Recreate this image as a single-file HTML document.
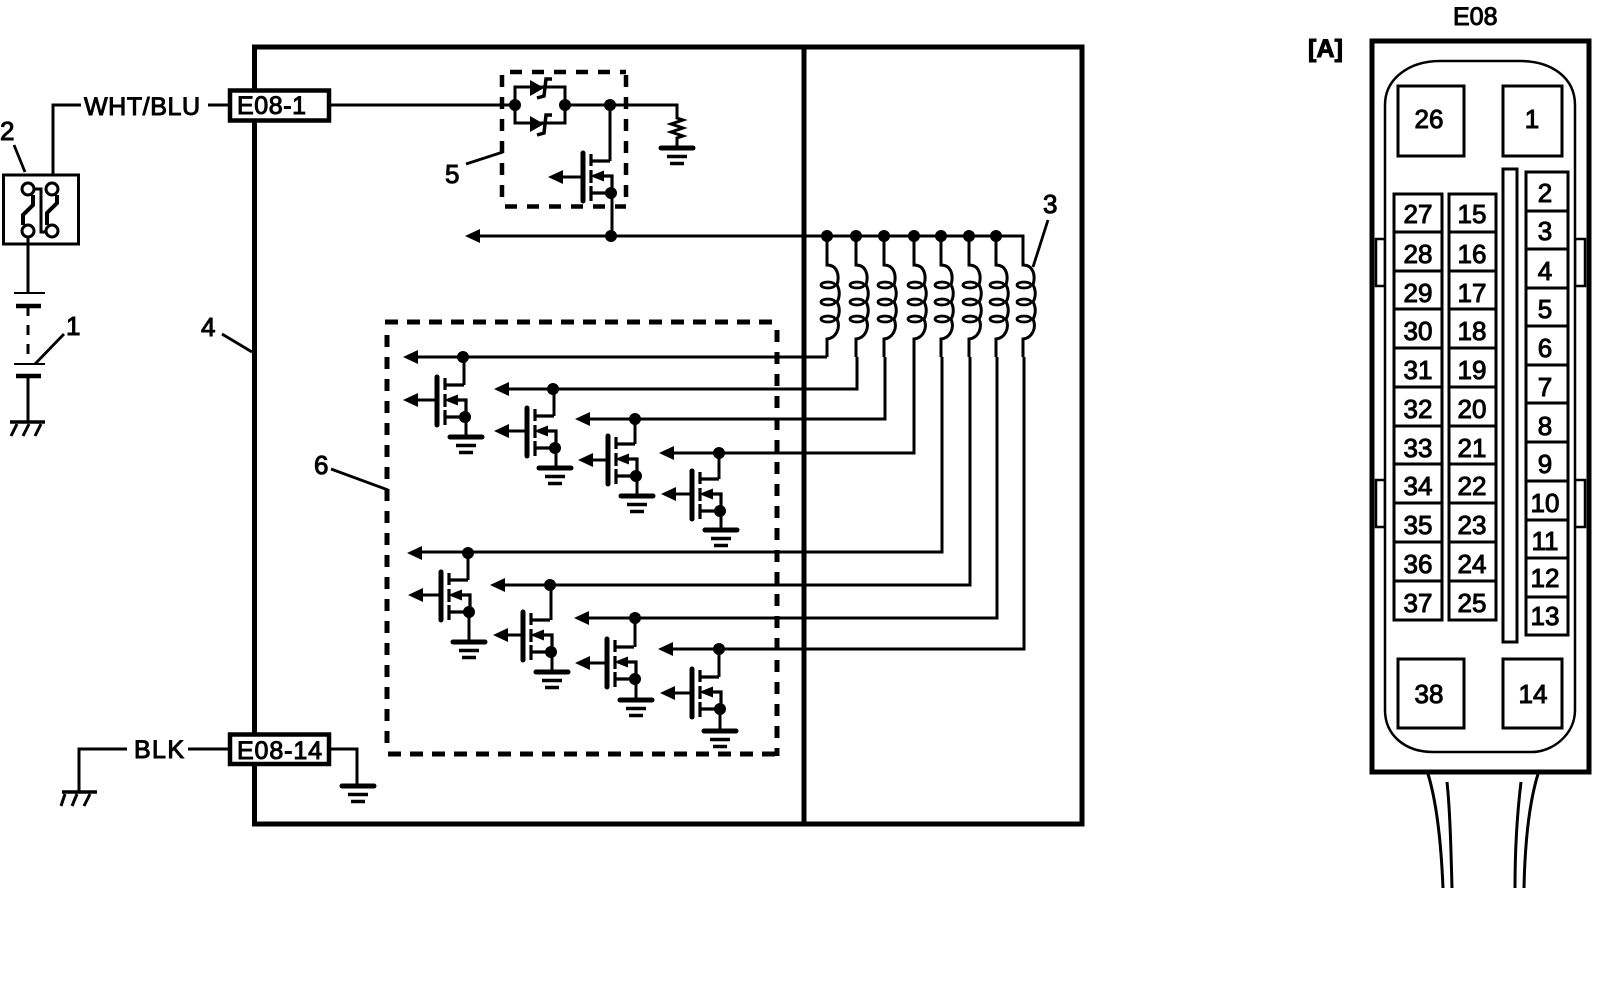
<!DOCTYPE html>
<html><head><meta charset="utf-8"><style>
html,body{margin:0;padding:0;background:#fff}
svg{display:block}
text{font-family:"Liberation Sans",sans-serif;fill:#000;stroke:#000;stroke-width:1}
.n text{font-size:26px;text-anchor:middle;stroke-width:1}
</style></head><body>
<svg width="1600" height="988" viewBox="0 0 1600 988">
<defs>
<g id="m">
<path d="M0 -8V40" stroke-width="5" stroke-linecap="round"/>
<path d="M8 -7V5M8 9V22M8 25V40" stroke-width="3.200"/>
<path d="M8 0H27M8 32H29M12 15H29V32" stroke-width="3.200"/>
<polygon points="7,15 21,9.500 21,20.500" fill="#000" stroke="none"/>
<circle cx="28" cy="32" r="6" fill="#000" stroke="none"/>
</g>
<g id="g">
<path d="M-16 0H16" stroke-width="5" stroke-linecap="round"/>
<path d="M-10 8.500H10M-7 15.500H7" stroke-width="3.500"/>
</g>
<polygon id="a" points="0,0 15,-7 15,7" fill="#000" stroke="none"/>
<circle id="d" r="6" fill="#000" stroke="none"/>
<g id="c" fill="none">
<path d="M0 238V265C10 265 13 275 10 285C13 290 13 297 10 302C13 307 13 314 10 319C14 328 9 338 0 339V357" stroke-width="3"/>
<ellipse cx="1" cy="285" rx="7" ry="3" stroke-width="2.800"/>
<ellipse cx="1" cy="302" rx="7" ry="3" stroke-width="2.800"/>
<ellipse cx="1" cy="319" rx="7" ry="3" stroke-width="2.800"/>
</g>
</defs>

<g fill="none" stroke="#000" stroke-width="3">
<!-- main enclosure -->
<rect x="254.500" y="47" width="827.500" height="777" stroke-width="5"/>
<path d="M804 47V824" stroke-width="5"/>

<!-- left side circuit -->
<path d="M81 105H53V174M208 105H230M329 105H515"/>
<rect x="3.500" y="175" width="75" height="69"/>
<path d="M33 195V205L23 215V225M57 195V203L47 213V225" stroke-width="4"/>
<path d="M35 189H41V232H46"/>
<circle cx="28" cy="189" r="6"/><circle cx="52" cy="189" r="6"/><circle cx="28" cy="231" r="6"/><circle cx="52" cy="231" r="6"/>
<path d="M28 237V293"/>
<path d="M14 293H45M14 364H45" stroke-width="2"/>
<path d="M16 306H41M16 376H41" stroke-width="4.500"/>
<path d="M28 306V363" stroke-dasharray="10 9"/>
<path d="M28 376V422"/>
<path d="M10 422H45" stroke-width="3.500"/>
<path d="M17 424L11 436M29 424L23 436M41 424L35 436"/>
<path d="M64 334L35 364M14 145L25 172M222 334L252 352M466 164L503 152M331 469L388 490M1048 220L1033 267" stroke-width="2.800"/>

<rect x="230" y="90.500" width="99" height="30" fill="#fff" stroke-width="4.500"/>

<!-- bottom left -->
<path d="M127 749H79V792M188 749H229M329 749H357V786"/>
<path d="M62 792H97" stroke-width="3.500"/>
<path d="M65 794L61 806M77 794L72 806M90 794L84 806"/>
<rect x="230" y="734.500" width="99" height="29.500" fill="#fff" stroke-width="4.500"/>
<use href="#g" x="358" y="786"/>

<!-- box 5 circuit -->
<path d="M502 75V205M510 72H626M505 206.500H626M626 75V207" stroke-width="4.500" stroke-dasharray="12 10"/>
<path d="M515 105V87H565V123H515V105M565 105H677V118L683 120L671 124L683 128L671 132L683 136L677 138V148"/>
<polygon points="530,80 544,88 530,96" fill="#000" stroke="none"/>
<polygon points="530,116 544,124 530,132" fill="#000" stroke="none"/>
<path d="M552 79H546L544 96L537 98M552 115H546L544 133L537 135" stroke-width="3.500"/>
<use href="#d" x="515" y="105"/><use href="#d" x="565" y="105"/><use href="#d" x="610" y="105"/>
<use href="#g" x="677" y="148"/>
<path d="M610 105V161"/>
<use href="#m" x="583" y="161"/>
<path d="M583 177H556M612 193V236"/>
<use href="#a" x="548" y="177"/>

<!-- bus -->
<path d="M470 236H1023V265"/>
<use href="#a" x="465" y="236"/>
<use href="#d" x="611" y="236"/>
<use href="#d" x="827" y="236"/><use href="#d" x="856" y="236"/><use href="#d" x="884" y="236"/><use href="#d" x="914" y="236"/><use href="#d" x="941" y="236"/><use href="#d" x="969" y="236"/><use href="#d" x="996" y="236"/>
<use href="#c" x="827"/><use href="#c" x="856"/><use href="#c" x="884"/><use href="#c" x="914"/><use href="#c" x="941"/><use href="#c" x="969"/><use href="#c" x="996"/><use href="#c" x="1023"/>

<!-- return wires -->
<path d="M827 357H412M857 357V389H498M885 357V419H582M914 357V453H667M942 357V552H415M970 357V585H498M997 357V618H582M1024 357V649H666" stroke-width="3"/>
<use href="#a" x="403" y="357"/><use href="#a" x="494" y="389"/><use href="#a" x="575" y="419"/><use href="#a" x="659" y="453"/>
<use href="#a" x="407" y="553"/><use href="#a" x="490" y="585"/><use href="#a" x="574" y="618"/><use href="#a" x="658" y="649"/>

<!-- box 6 -->
<path d="M385 322H779M388 754H779" stroke-width="5" stroke-dasharray="13 9"/>
<path d="M387 335V748M777 330V756" stroke-width="5" stroke-dasharray="12 10"/>

<!-- upper MOSFETs -->
<use href="#d" x="463" y="357"/><path d="M464 357V385M437 400H412M466 417V437"/><use href="#m" x="437" y="385"/><use href="#a" x="403" y="400"/><use href="#g" x="466" y="437"/>
<use href="#d" x="553" y="389"/><path d="M554 389V416M527 431H502M556 448V468"/><use href="#m" x="527" y="416"/><use href="#a" x="494" y="431"/><use href="#g" x="555" y="468"/>
<use href="#d" x="635" y="419"/><path d="M635 419V444M608 460H586M637 476V496"/><use href="#m" x="608" y="444"/><use href="#a" x="578" y="460"/><use href="#g" x="637" y="496"/>
<use href="#d" x="719" y="453"/><path d="M719 453V479M692 494H669M721 511V530"/><use href="#m" x="692" y="479"/><use href="#a" x="661" y="494"/><use href="#g" x="721" y="530"/>

<!-- lower MOSFETs -->
<use href="#d" x="468" y="553"/><path d="M468 553V580M441 595H416M469 612V642"/><use href="#m" x="441" y="580"/><use href="#a" x="408" y="595"/><use href="#g" x="469" y="642"/>
<use href="#d" x="550" y="585"/><path d="M551 585V620M523 635H501M552 652V672"/><use href="#m" x="523" y="620"/><use href="#a" x="493" y="635"/><use href="#g" x="552" y="672"/>
<use href="#d" x="635" y="618"/><path d="M635 618V647M607 663H583M636 679V700"/><use href="#m" x="607" y="647"/><use href="#a" x="575" y="663"/><use href="#g" x="636" y="700"/>
<use href="#d" x="719" y="649"/><path d="M719 649V677M692 693H668M720 709V731"/><use href="#m" x="692" y="677"/><use href="#a" x="660" y="693"/><use href="#g" x="720" y="731"/>

<!-- connector -->
<rect x="1376" y="239" width="9" height="47" stroke-width="2.500"/>
<rect x="1376" y="480" width="9" height="47" stroke-width="2.500"/>
<rect x="1575" y="239" width="10" height="47" stroke-width="2.500"/>
<rect x="1575" y="480" width="10" height="47" stroke-width="2.500"/>
<path d="M1372 41H1589V772H1372Z" stroke-width="5"/>
<path d="M1385 105C1385 78 1410 61 1440 61H1520C1552 61 1575 78 1575 105V710C1575 735 1552 752 1532 752H1433C1405 752 1385 735 1385 710Z" stroke-width="2.500" fill="#fff"/>
<rect x="1398" y="86" width="66" height="70"/>
<rect x="1503" y="86" width="59" height="70"/>
<rect x="1398" y="659" width="66" height="69"/>
<rect x="1503" y="659" width="59" height="69"/>
<rect x="1503" y="169" width="14" height="473"/>
<rect x="1526" y="172" width="42" height="463"/>
<path d="M1526 211H1568M1526 249H1568M1526 288H1568M1526 326H1568M1526 365H1568M1526 403H1568M1526 442H1568M1526 481H1568M1526 520H1568M1526 558H1568M1526 597H1568"/>
<rect x="1394" y="194" width="48" height="426"/>
<rect x="1449" y="194" width="47" height="426"/>
<path d="M1394 232H1442M1394 271H1442M1394 309H1442M1394 348H1442M1394 387H1442M1394 426H1442M1394 464H1442M1394 503H1442M1394 542H1442M1394 581H1442"/>
<path d="M1449 232H1496M1449 271H1496M1449 309H1496M1449 348H1496M1449 387H1496M1449 426H1496M1449 464H1496M1449 503H1496M1449 542H1496M1449 581H1496"/>
<path d="M1428 774C1436 800 1441 840 1443 888M1447 782C1450 810 1451 850 1452 888M1521 782C1517 815 1515 850 1515 888M1538 774C1530 800 1525 840 1524 888" stroke-width="3"/>
</g>

<!-- labels -->
<text x="84" y="115" font-size="25" textLength="116">WHT/BLU</text>
<text x="134" y="758" font-size="25" textLength="50">BLK</text>
<text x="237" y="114" font-size="25" textLength="69">E08-1</text>
<text x="237" y="759" font-size="25" textLength="85">E08-14</text>
<text x="0" y="140" font-size="26">2</text>
<text x="66" y="335" font-size="26">1</text>
<text x="201" y="336" font-size="26">4</text>
<text x="1043" y="213" font-size="26">3</text>
<text x="445" y="183" font-size="26">5</text>
<text x="314" y="474" font-size="26">6</text>
<text x="1453" y="25" font-size="25" stroke-width=".5">E08</text>
<text x="1308" y="57" font-size="25" font-weight="bold" textLength="35">[A]</text>

<g class="n">
<text x="1429" y="128">26</text><text x="1532" y="128">1</text>
<text x="1429" y="703">38</text><text x="1533" y="703">14</text>
</g>
<g class="n">
<text x="1545" y="202">2</text><text x="1545" y="240">3</text><text x="1545" y="280">4</text><text x="1545" y="318">5</text><text x="1545" y="357">6</text><text x="1545" y="396">7</text><text x="1545" y="435">8</text><text x="1545" y="473">9</text><text x="1545" y="512">10</text><text x="1545" y="550">11</text><text x="1545" y="587">12</text><text x="1545" y="625">13</text>
</g>
<g class="n">
<text x="1418" y="223">27</text><text x="1418" y="263">28</text><text x="1418" y="302">29</text><text x="1418" y="340">30</text><text x="1418" y="379">31</text><text x="1418" y="418">32</text><text x="1418" y="457">33</text><text x="1418" y="495">34</text><text x="1418" y="534">35</text><text x="1418" y="573">36</text><text x="1418" y="612">37</text>
<text x="1472" y="223">15</text><text x="1472" y="263">16</text><text x="1472" y="302">17</text><text x="1472" y="340">18</text><text x="1472" y="379">19</text><text x="1472" y="418">20</text><text x="1472" y="457">21</text><text x="1472" y="495">22</text><text x="1472" y="534">23</text><text x="1472" y="573">24</text><text x="1472" y="612">25</text>
</g>
</svg>
</body></html>
